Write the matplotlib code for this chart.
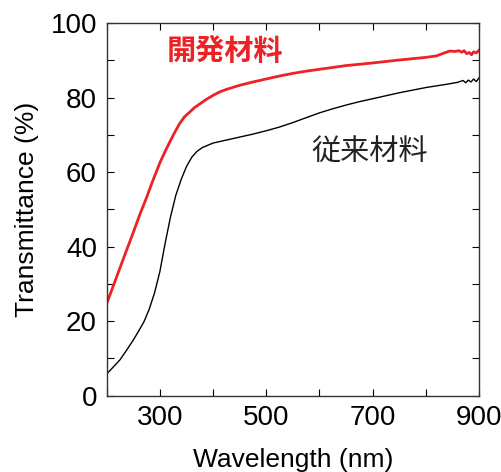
import numpy as np
import matplotlib.pyplot as plt

plt.rcParams['font.family'] = ['Liberation Sans', 'Noto Sans CJK JP', 'DejaVu Sans']

# transmittance spectra
wl_new = [200, 212, 225, 237, 250, 262, 275, 287, 300, 310, 319, 328, 337,
          346, 356, 365, 375, 387, 400, 412, 425, 450, 475, 500, 525, 550,
          575, 600, 650, 700, 750, 800, 820, 835, 845, 855, 862, 868, 872,
          877, 882, 886, 890, 895, 900]
t_new = [24.7, 29.3, 34.3, 38.9, 43.8, 48.5, 53.2, 57.8, 62.5, 65.6, 68.2,
         70.7, 73.0, 74.8, 76.1, 77.3, 78.3, 79.5, 80.6, 81.5, 82.2, 83.3,
         84.2, 85.0, 85.8, 86.5, 87.1, 87.6, 88.6, 89.3, 90.1, 90.8, 91.2,
         92.0, 92.5, 92.4, 92.6, 92.2, 92.6, 91.8, 92.1, 91.5, 92.3, 92.0,
         92.7]

wl_old = [200, 212, 225, 237, 250, 260, 270, 280, 290, 300, 310, 320, 330,
          340, 350, 360, 370, 380, 390, 400, 425, 450, 475, 500, 525, 550,
          575, 600, 625, 650, 675, 700, 750, 800, 840, 860, 870, 875, 880,
          885, 890, 895, 900]
t_old = [5.8, 7.6, 9.6, 12.1, 14.9, 17.3, 19.8, 23.2, 27.6, 33.3, 41.0,
         48.0, 53.8, 58.0, 61.5, 64.0, 65.6, 66.6, 67.2, 67.8, 68.6, 69.4,
         70.2, 71.1, 72.1, 73.3, 74.6, 75.9, 77.0, 78.0, 78.9, 79.7, 81.3,
         82.7, 83.6, 84.1, 84.6, 84.0, 84.7, 84.2, 85.0, 84.3, 85.3]

label_new = "開発材料"
label_old = "従来材料"

fig = plt.figure(figsize=(5.01, 4.72), dpi=100)
ax = fig.add_axes([0.213, 0.162, 0.743, 0.789])

ax.plot(wl_old, t_old, color="black", lw=1.0)
ax.plot(wl_new, t_new, color="#ec2227", lw=2.0)

ax.text(422, 92.6, label_new, color="#ec2227", fontsize=21, fontweight="bold",
        ha="center", va="center", family=['Noto Sans CJK JP'])
ax.text(694, 65.4, label_old, color="#222222", fontsize=21,
        ha="center", va="center", family=['Noto Sans CJK JP'])

ax.set_xlim(200, 900)
ax.set_ylim(0, 100)
ax.set_xticks([300, 500, 700, 900])
ax.set_xticks([200, 400, 600, 800], minor=True)
ax.set_yticks([0, 20, 40, 60, 80, 100])
ax.set_yticks([10, 30, 50, 70, 90], minor=True)
ax.tick_params(which="both", direction="in", top=True, right=True,
               length=5, width=0.8, labelsize=20, pad=7)
for s in ax.spines.values():
    s.set_linewidth(1.0)
    s.set_color("#333333")

ax.set_xlabel("Wavelength (nm)", fontsize=19, labelpad=12)
ax.set_ylabel("Transmittance (%)", fontsize=19, labelpad=8)

fig.savefig("out.png", dpi=100)
